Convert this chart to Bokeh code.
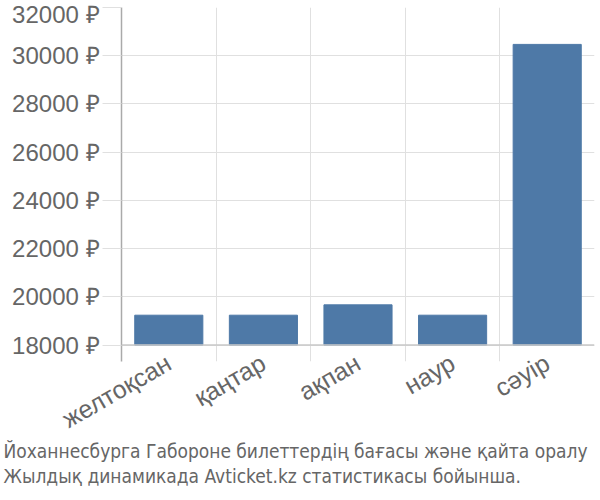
import math
from bokeh.plotting import figure
from bokeh.models import FixedTicker, Range1d, Span, Title
from bokeh.embed import file_html
from bokeh.resources import INLINE

categories = ["желтоқсан", "қаңтар", "ақпан", "наур", "сәуір"]
prices = [19240, 19240, 19670, 19240, 30470]
y_ticks = [18000, 20000, 22000, 24000, 26000, 28000, 30000, 32000]
title_lines = [
    "Йоханнесбурга Габороне билеттердің бағасы және қайта оралу",
    "Жылдық динамикада Avticket.kz статистикасы бойынша.",
]

xs = [i + 0.5 for i in range(len(categories))]
base = y_ticks[0]

p = figure(frame_width=473, frame_height=354, output_backend="svg", toolbar_location=None,
           x_range=Range1d(0, len(categories)), y_range=Range1d(17320, 32000),
           min_border_left=121, min_border_right=4, min_border_top=7, min_border_bottom=10)
p.outline_line_color = None

p.vbar(x=xs, top=prices, bottom=base, width=0.72, fill_color="#4e79a7",
       line_color="#4e79a7")

p.add_layout(Span(location=base, dimension="width", line_color="#c8c8c8", line_width=1.5))

# grids
p.xgrid.ticker = FixedTicker(ticks=list(range(len(categories) + 1)))
p.xgrid.grid_line_color = "#e0e0e0"
p.ygrid.ticker = FixedTicker(ticks=y_ticks)
p.ygrid.grid_line_color = "#e0e0e0"

# y axis
p.yaxis.ticker = FixedTicker(ticks=y_ticks)
p.yaxis.major_label_overrides = {t: f"{t} ₽" for t in y_ticks}
p.yaxis.major_label_text_font = "Liberation Sans"
p.yaxis.major_label_text_font_size = "24px"
p.yaxis.major_label_text_color = "#666666"
p.yaxis.major_tick_out = 19
p.yaxis.major_tick_in = 0
p.yaxis.major_tick_line_color = "#e0e0e0"
p.yaxis.minor_tick_line_color = None
p.yaxis.axis_line_color = "#aaaaaa"
p.yaxis.axis_line_width = 1.5
p.yaxis.major_label_standoff = 3

# x axis
p.xaxis.ticker = FixedTicker(ticks=xs)
p.xaxis.major_label_overrides = {x: c for x, c in zip(xs, categories)}
p.xaxis.major_label_orientation = math.pi / 6
p.xaxis.major_label_text_font = "Liberation Sans"
p.xaxis.major_label_text_font_size = "25px"
p.xaxis.major_label_text_color = "#666666"
p.xaxis.major_tick_line_color = None
p.xaxis.minor_tick_line_color = None
p.xaxis.axis_line_color = None
p.xaxis.major_label_standoff = -7

for i, line in enumerate(title_lines):
    p.add_layout(Title(text=line, align="left",
                       text_font="DejaVu Sans Condensed",
                       text_font_size="19px", text_font_style="normal",
                       text_color="#666666", offset=-118,
                       standoff=(-22 if i == 0 else 24)), "below")

open("out.html", "w").write(file_html(p, INLINE))
